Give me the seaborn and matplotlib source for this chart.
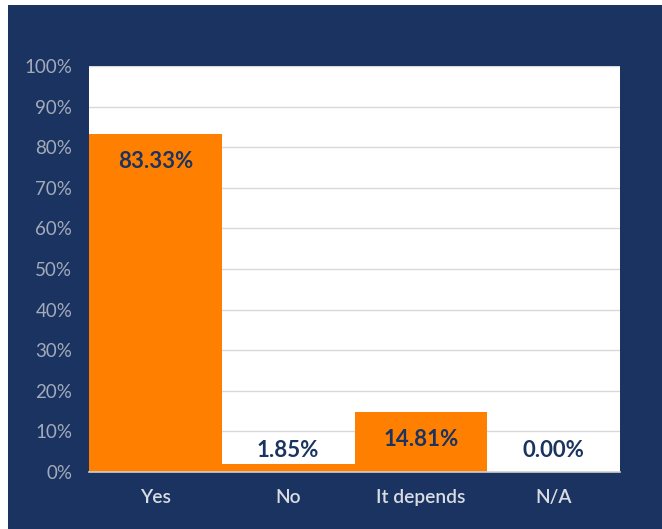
import matplotlib
matplotlib.use("Agg")
import matplotlib.pyplot as plt
import seaborn as sns
import pandas as pd
from matplotlib.patches import Rectangle
from matplotlib.ticker import PercentFormatter

categories = ["Yes", "No", "It depends", "N/A"]
values = [83.33, 1.85, 14.81, 0.00]
labels = ["83.33%", "1.85%", "14.81%", "0.00%"]

NAVY = "#1b3361"
ORANGE = "#ff8000"

sns.set_theme(style="white")
plt.rcParams["font.family"] = ["Lato", "DejaVu Sans"]

fig = plt.figure(figsize=(6.62, 5.29), dpi=100, facecolor="white")
fig.patches.append(Rectangle((8 / 662, 0), 1, 524 / 529, transform=fig.transFigure,
                             facecolor=NAVY, edgecolor="none", zorder=-1))
ax = fig.add_axes([89 / 662, 57 / 529, 531 / 662, 406 / 529])
ax.set_facecolor("white")

df = pd.DataFrame({"cat": categories, "val": values})
sns.barplot(data=df, x="cat", y="val", color=ORANGE, saturation=1, width=1.0,
            edgecolor="none", ax=ax, zorder=3)

ax.set_ylim(0, 100)
ax.set_xlim(-0.5, 3.5)
ax.set_yticks(range(0, 101, 10))
ax.yaxis.set_major_formatter(PercentFormatter(decimals=0))
ax.grid(axis="y", color="#d9d9d9", linewidth=1, zorder=0)
ax.set_axisbelow(True)
for s in ["top", "right", "left"]:
    ax.spines[s].set_visible(False)
ax.spines["bottom"].set_color("#d0d0d0")
ax.spines["bottom"].set_linewidth(1.2)
ax.spines["bottom"].set_zorder(4)
ax.set_xlabel("")
ax.set_ylabel("")
ax.tick_params(axis="y", length=0, pad=12, labelsize=13.5, labelcolor="#a3abba")
ax.tick_params(axis="x", length=0, pad=12, labelsize=13.8, labelcolor="#d9dce3")
for t in ax.get_xticklabels():
    t.set_fontweight("semibold")

for i, (v, lab) in enumerate(zip(values, labels)):
    if v > 10:
        ax.annotate(lab, xy=(i, v), xytext=(0, -20), textcoords="offset points",
                    ha="center", va="center", fontsize=16, fontweight="bold",
                    color=NAVY, zorder=5)
    else:
        ax.text(i, 5.4, lab, ha="center", va="center", fontsize=16,
                fontweight="bold", color=NAVY, zorder=5)

fig.savefig("out.png", dpi=100, facecolor="white")
